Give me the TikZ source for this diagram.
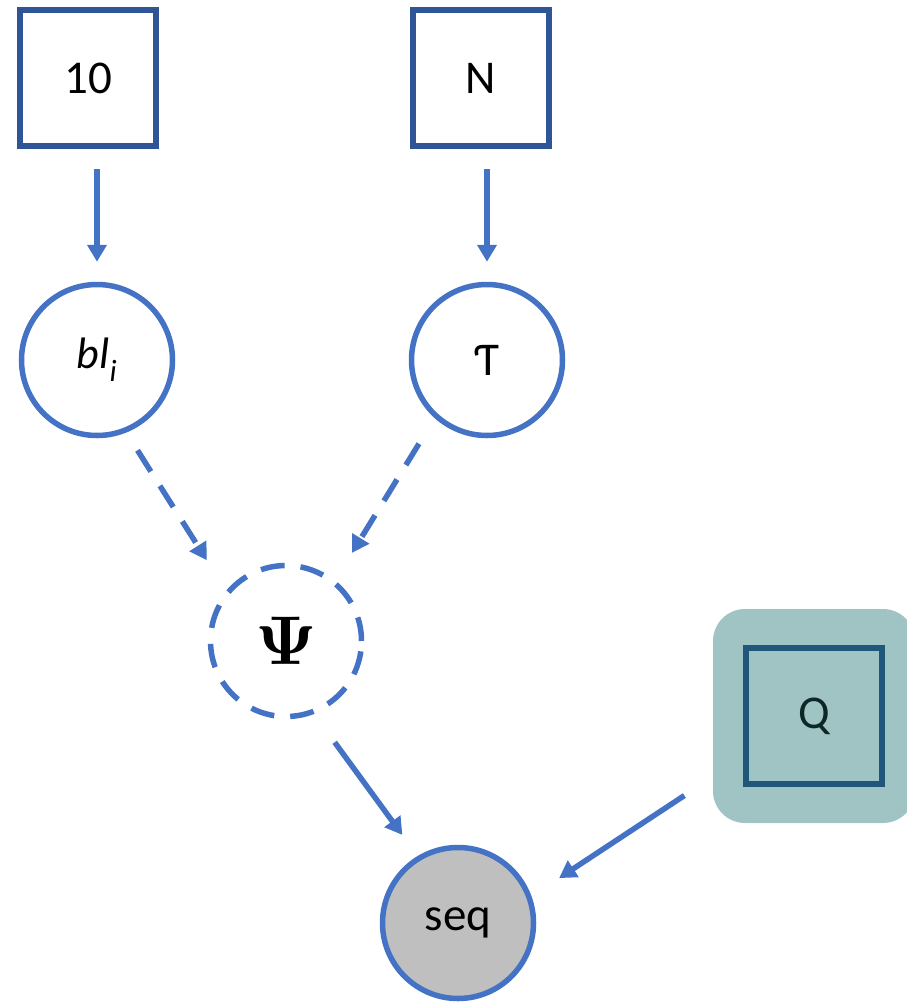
\documentclass[tikz,border=0pt]{standalone}
\usepackage{amsmath}
\usepackage{graphicx}
\usepackage[no-math]{fontspec}
\setmainfont{Carlito}
\usetikzlibrary{arrows.meta,fit,backgrounds}

\definecolor{nodeblue}{HTML}{4472C4}
\definecolor{plateblue}{HTML}{2F5597}
\definecolor{seqgray}{HTML}{BFBFBF}
\definecolor{qfill}{HTML}{A0C4C4}
\definecolor{qline}{HTML}{1F567A}
\definecolor{qtext}{HTML}{0D2626}

\begin{document}
\begin{tikzpicture}[x=1pt,y=-1pt,
  plate/.style={draw=plateblue,line width=6pt,minimum size=136pt,inner sep=0pt,font=\fontsize{47}{50}\selectfont},
  var/.style={circle,draw=nodeblue,line width=5.5pt,minimum size=151pt,inner sep=0pt,font=\fontsize{47}{50}\selectfont},
  link/.style={draw=nodeblue,line width=5.5pt,-{Triangle[width=19pt,length=17pt]}},
  dlink/.style={link,dash pattern=on 25pt off 17pt}]
\useasboundingbox (0,0) rectangle (906,1004);

\node[plate] (ten) at (88,78) {10};
\node[plate] (nbox) at (481,78) {N};
\node[var] (bl) at (97,360) {\fontsize{44}{46}\selectfont\textit{bl}\textsubscript{\textit{i}}};
\node[var] (tau) at (487,360) {Ƭ};
\node[var,dash pattern=on 24pt off 16pt] (psi) at (286,641) {\fontsize{10}{12}\selectfont\scalebox{6.9}{$\mathbf{\Psi}$}};
\node[var,fill=seqgray] (seq) at (458,923) {seq};
\node[plate,draw=qline,text=qtext] (qbox) at (814,716) {Q};
\begin{scope}[on background layer]
\node[fill=qfill,rounded corners=32pt,inner xsep=30pt,inner ysep=36pt,fit=(qbox)] (qframe) {};
\end{scope}

\draw[link,shorten <=20pt,shorten >=20pt] (ten.south -| bl) -- (bl);
\draw[link,shorten <=20pt,shorten >=20pt] (nbox.south -| tau) -- (tau);
\draw[dlink,shorten <=21pt,shorten >=36pt] (bl.-68) -- (psi.140);
\draw[dlink,shorten <=30pt,shorten >=32pt] (tau.-132) -- (psi.51);
\draw[link,shorten <=35pt,shorten >=26pt] (psi.-69) -- (seq.121);
\draw[link,shorten <=34pt,shorten >=33pt] (qframe.211) -- (seq.20);
\end{tikzpicture}
\end{document}
